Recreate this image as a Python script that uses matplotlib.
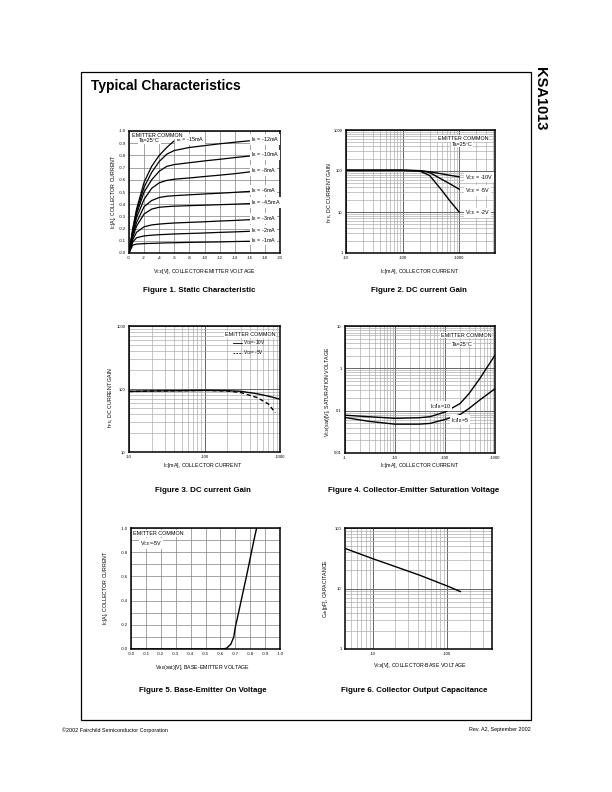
import matplotlib.pyplot as plt
from matplotlib.ticker import FixedLocator, LogLocator, NullFormatter
from matplotlib.patches import Rectangle

plt.rcParams["font.family"] = ["Liberation Sans", "DejaVu Sans"]
plt.rcParams["mathtext.fontset"] = "custom"
plt.rcParams["mathtext.rm"] = "Liberation Sans"
plt.rcParams["mathtext.it"] = "Liberation Sans:italic"

# ---- Figure 1: static characteristic (Vce in V, Ic in A, magnitudes)
vce1 = [0, 0.5, 1, 2, 3, 4, 5, 6, 8, 10, 12, 14, 16]
vce1_15 = [0, 0.5, 1, 2, 3, 4, 5, 5.9]
ic1_15 = [0, 0.2, 0.36, 0.58, 0.71, 0.8, 0.865, 0.915]
ic1_12 = [0, 0.19, 0.34, 0.54, 0.66, 0.75, 0.81, 0.84, 0.865, 0.88, 0.895, 0.908, 0.92]
ic1_10 = [0, 0.18, 0.32, 0.5, 0.6, 0.67, 0.71, 0.725, 0.74, 0.755, 0.768, 0.782, 0.795]
ic1_8 = [0, 0.17, 0.29, 0.44, 0.53, 0.575, 0.595, 0.605, 0.615, 0.627, 0.638, 0.65, 0.665]
ic1_6 = [0, 0.15, 0.25, 0.38, 0.43, 0.455, 0.465, 0.47, 0.477, 0.484, 0.49, 0.497, 0.505]
ic1_45 = [0, 0.13, 0.22, 0.32, 0.36, 0.375, 0.38, 0.384, 0.388, 0.392, 0.396, 0.40, 0.405]
ic1_3 = [0, 0.11, 0.17, 0.215, 0.23, 0.237, 0.242, 0.246, 0.251, 0.256, 0.262, 0.267, 0.273]
ic1_2 = [0, 0.09, 0.125, 0.14, 0.146, 0.15, 0.153, 0.156, 0.16, 0.164, 0.169, 0.173, 0.178]
ic1_1 = [0, 0.065, 0.073, 0.077, 0.079, 0.081, 0.083, 0.084, 0.087, 0.089, 0.091, 0.094, 0.096]
ib_labels = ["-12mA", "-10mA", "-8mA", "-6mA", "-4.5mA", "-3mA", "-2mA", "-1mA"]

# ---- Figure 2: DC current gain vs Ic for three Vce
ic2 = [10, 20, 50, 100, 200, 300, 500, 700, 1000]
hfe2_10v = [104, 104, 104, 104, 102, 96, 85, 78, 72]
hfe2_5v = [104, 104, 104, 104, 102, 92, 62, 48, 36]
hfe2_2v = [104, 104, 104, 104, 100, 78, 33, 18, 10]

# ---- Figure 3: DC current gain, Vce=-10V (solid) and -5V (dashed)
ic3 = [10, 20, 50, 100, 200, 300, 500, 700, 1000]
hfe3_10v = [92, 93, 94, 95, 94, 92, 84, 77, 69]
ic3_5v = [10, 20, 50, 100, 200, 300, 500, 700, 870]
hfe3_5v = [91, 93, 94, 95, 93, 88, 73, 58, 42]

# ---- Figure 4: saturation voltage
ic4 = [1, 3, 10, 30, 50, 100, 200, 300, 500, 1000]
vsat4_10 = [0.078, 0.072, 0.066, 0.068, 0.072, 0.093, 0.147, 0.25, 0.58, 2.05]
vsat4_5 = [0.069, 0.056, 0.048, 0.048, 0.05, 0.062, 0.081, 0.112, 0.18, 0.33]

# ---- Figure 5: base-emitter on voltage
vbe5 = [0.0, 0.6, 0.64, 0.67, 0.69, 0.70, 0.72, 0.75, 0.78, 0.80, 0.82, 0.843]
ic5 = [0, 0, 0.005, 0.04, 0.1, 0.18, 0.29, 0.46, 0.63, 0.75, 0.87, 1.0]

# ---- Figure 6: collector output capacitance
vcb6 = [4.2, 10, 20, 43, 100, 150]
cob6 = [46, 31, 23, 16.5, 11, 8.9]

W, H = 612, 792
fig = plt.figure(figsize=(6.12, 7.92), dpi=100)


def rect(l, t, r, b):
    return [l / W, 1 - b / H, (r - l) / W, (b - t) / H]


def ftext(x, y, s, **kw):
    fig.text(x / W, 1 - y / H, s, **kw)


def frame(ax):
    for sp in ax.spines.values():
        sp.set_linewidth(1.1)
    ax.tick_params(which="both", length=0, labelsize=3, pad=2.5)


def log_axes(ax, xlim, ylim, xt, xl, yt, yl):
    ax.set_xscale("log")
    ax.set_yscale("log")
    ax.set_xlim(*xlim)
    ax.set_ylim(*ylim)
    ax.xaxis.set_major_locator(FixedLocator(xt))
    ax.set_xticklabels(xl)
    ax.yaxis.set_major_locator(FixedLocator(yt))
    ax.set_yticklabels(yl)
    for a in (ax.xaxis, ax.yaxis):
        a.set_minor_locator(LogLocator(base=10, subs=range(2, 10), numticks=20))
        a.set_minor_formatter(NullFormatter())
    ax.grid(which="major", color="0.4", lw=0.7)
    ax.grid(which="minor", color="0.65", lw=0.45)
    ax.set_axisbelow(True)
    frame(ax)


box = dict(facecolor="white", edgecolor="none", pad=0.6)
small = 3.9
lab = 3.8

# page frame and headings
fig.add_artist(Rectangle((81 / W, 1 - 720 / H), 450 / W, 648 / H, transform=fig.transFigure,
                         fill=False, lw=0.9, color="black"))
ftext(91, 86, "Typical Characteristics", fontsize=9.9, fontweight="bold", va="center")
ftext(540, 67, "KSA1013", fontsize=10.5, fontweight="bold", rotation=-90, ha="center", va="top")
ftext(62, 730, "©2002 Fairchild Semiconductor Corporation", fontsize=3.9, va="center")
ftext(531, 730, "Rev. A2, September 2002", fontsize=3.9, va="center", ha="right")

# Figure 1
ax1 = fig.add_axes(rect(129, 131, 280, 253))
ax1.plot(vce1_15, ic1_15, color="black", lw=0.9)
for ic in (ic1_12, ic1_10, ic1_8, ic1_6, ic1_45, ic1_3, ic1_2, ic1_1):
    ax1.plot(vce1, ic, color="black", lw=0.9)
ax1.set_xlim(0, 20)
ax1.set_ylim(0, 1.0)
ax1.set_xticks(range(0, 21, 2))
ax1.set_xticklabels([f"-{v}" for v in range(0, 21, 2)])
ax1.set_yticks([i / 10 for i in range(11)])
ax1.set_yticklabels([f"-{i / 10:.1f}" for i in range(11)])
ax1.grid(color="0.5", lw=0.5)
frame(ax1)
for name, ic in zip(ib_labels, (ic1_12, ic1_10, ic1_8, ic1_6, ic1_45, ic1_3, ic1_2, ic1_1)):
    ax1.text(16.2, ic[-1] + 0.01, "$\\mathregular{I_B}$ = " + name, fontsize=small, va="center", bbox=box)
ax1.text(6.2, 0.93, "$\\mathregular{I_B}$ = -15mA", fontsize=small, va="center", bbox=box)
ax1.text(0.4, 0.985, "EMITTER COMMON", fontsize=small, va="top", bbox=box)
ax1.text(1.3, 0.92, "Ta=25°C", fontsize=small, va="center", bbox=box)
ftext(113, 192, "$\\mathregular{I_C}$[A], COLLECTOR CURRENT", fontsize=lab, rotation=90, ha="center", va="center")
ftext(204, 271, "$\\mathregular{V_{CE}}$[V], COLLECTOR-EMITTER VOLTAGE", fontsize=lab, ha="center", va="center")
ftext(199, 291, "Figure 1. Static Characteristic", fontsize=5.7, fontweight="bold", ha="center", va="center")

# Figure 2
ax2 = fig.add_axes(rect(346, 130, 495, 253))
log_axes(ax2, (10, 4300), (1, 1000), [10, 100, 1000], ["-10", "-100", "-1000"],
         [1, 10, 100, 1000], ["1", "10", "100", "1000"])
for h in (hfe2_10v, hfe2_5v, hfe2_2v):
    ax2.plot(ic2, h, color="black", lw=1.0)
ax2.text(417, 630, "EMITTER COMMON", fontsize=small, va="center", bbox=box)
ax2.text(740, 455, "Ta=25°C", fontsize=small, va="center", bbox=box)
ax2.text(1260, 71, "$\\mathregular{V_{CE}}$ = -10V", fontsize=small, va="center", bbox=box)
ax2.text(1260, 33, "$\\mathregular{V_{CE}}$ = -5V", fontsize=small, va="center", bbox=box)
ax2.text(1260, 9.5, "$\\mathregular{V_{CE}}$ = -2V", fontsize=small, va="center", bbox=box)
ftext(330, 192, "$\\mathregular{h_{FE}}$, DC CURRENT GAIN", fontsize=lab, rotation=90, ha="center", va="center")
ftext(420, 271, "$\\mathregular{I_C}$[mA], COLLECTOR CURRENT", fontsize=lab, ha="center", va="center")
ftext(419, 291, "Figure 2. DC current Gain", fontsize=5.7, fontweight="bold", ha="center", va="center")

# Figure 3
ax3 = fig.add_axes(rect(129, 326, 280, 452))
log_axes(ax3, (10, 1000), (10, 1000), [10, 100, 1000], ["-10", "-100", "-1000"],
         [10, 100, 1000], ["10", "100", "1000"])
ax3.plot(ic3, hfe3_10v, color="black", lw=1.0)
ax3.plot(ic3_5v, hfe3_5v, color="black", lw=1.0, ls=(0, (3, 2)))
ax3.text(187, 740, "EMITTER COMMON", fontsize=small, va="center", bbox=box)
ax3.plot([236, 318], [545, 545], color="black", lw=0.6)
ax3.plot([236, 318], [375, 375], color="black", lw=0.6, ls=(0, (2, 1.5)))
ax3.text(322, 545, "$\\mathregular{V_{CE}}$=-10V", fontsize=3.3, va="center")
ax3.text(322, 375, "$\\mathregular{V_{CE}}$= -5V", fontsize=3.3, va="center")
ftext(111, 397, "$\\mathregular{h_{FE}}$, DC CURRENT GAIN", fontsize=lab, rotation=90, ha="center", va="center")
ftext(203, 466, "$\\mathregular{I_C}$[mA], COLLECTOR CURRENT", fontsize=lab, ha="center", va="center")
ftext(203, 491, "Figure 3. DC current Gain", fontsize=5.7, fontweight="bold", ha="center", va="center")

# Figure 4
ax4 = fig.add_axes(rect(345, 326, 495, 453))
log_axes(ax4, (1, 1000), (0.01, 10), [1, 10, 100, 1000], ["-1", "-10", "-100", "-1000"],
         [0.01, 0.1, 1, 10], ["0.01", "0.1", "1", "10"])
ax4.plot(ic4, vsat4_10, color="black", lw=1.0)
ax4.plot(ic4, vsat4_5, color="black", lw=1.0)
ax4.text(82, 6.1, "EMITTER COMMON", fontsize=small, va="center", bbox=box)
ax4.text(136, 3.75, "Ta=25°C", fontsize=small, va="center", bbox=box)
ax4.text(50, 0.128, "$\\mathregular{I_C/I_B}$=10", fontsize=small, va="center", bbox=box)
ax4.text(130, 0.060, "$\\mathregular{I_C/I_B}$=5", fontsize=small, va="center", bbox=box)
ftext(327, 392, "$\\mathregular{V_{CE}}$(sat)[V], SATURATION VOLTAGE", fontsize=lab, rotation=90,
      ha="center", va="center")
ftext(420, 466, "$\\mathregular{I_C}$[mA], COLLECTOR CURRENT", fontsize=lab, ha="center", va="center")
ftext(414, 491, "Figure 4. Collector-Emitter Saturation Voltage", fontsize=5.7, fontweight="bold",
      ha="center", va="center")

# Figure 5
ax5 = fig.add_axes(rect(131, 528, 280, 649))
ax5.plot(vbe5, ic5, color="black", lw=1.0)
ax5.set_xlim(0, 1.0)
ax5.set_ylim(0, 1.0)
ax5.set_xticks([i / 10 for i in range(11)])
ax5.set_xticklabels([f"-{i / 10:.1f}" for i in range(11)])
ax5.set_yticks([i / 10 for i in range(11)])
ax5.set_yticklabels([f"-{i / 10:.1f}" if i % 2 == 0 else "" for i in range(11)])
ax5.grid(color="0.5", lw=0.5)
frame(ax5)
ax5.text(0.012, 0.955, "EMITTER COMMON", fontsize=small, va="center", bbox=box)
ax5.text(0.06, 0.874, "$\\mathregular{V_{CE}}$=-5V", fontsize=small, va="center", bbox=box)
ftext(106, 588, "$\\mathregular{I_C}$[A], COLLECTOR CURRENT", fontsize=lab, rotation=90, ha="center", va="center")
ftext(203, 667, "$\\mathregular{V_{BE}}$(sat)[V], BASE-EMITTER VOLTAGE", fontsize=lab, ha="center", va="center")
ftext(203, 690, "Figure 5. Base-Emitter On Voltage", fontsize=5.7, fontweight="bold", ha="center", va="center")

# Figure 6
ax6 = fig.add_axes(rect(345, 528, 492, 649))
log_axes(ax6, (4.2, 400), (1, 100), [10, 100], ["-10", "-100"],
         [1, 10, 100], ["1", "10", "100"])
ax6.plot(vcb6, cob6, color="black", lw=1.0)
ftext(326, 588, "$\\mathregular{C_{ob}}$[pF], CAPACITANCE", fontsize=lab, rotation=90, ha="center", va="center")
ftext(420, 666, "$\\mathregular{V_{CB}}$[V], COLLECTOR-BASE VOLTAGE", fontsize=lab, ha="center", va="center")
ftext(414, 690, "Figure 6. Collector Output Capacitance", fontsize=5.7, fontweight="bold",
      ha="center", va="center")

fig.savefig("out.png", dpi=100)
